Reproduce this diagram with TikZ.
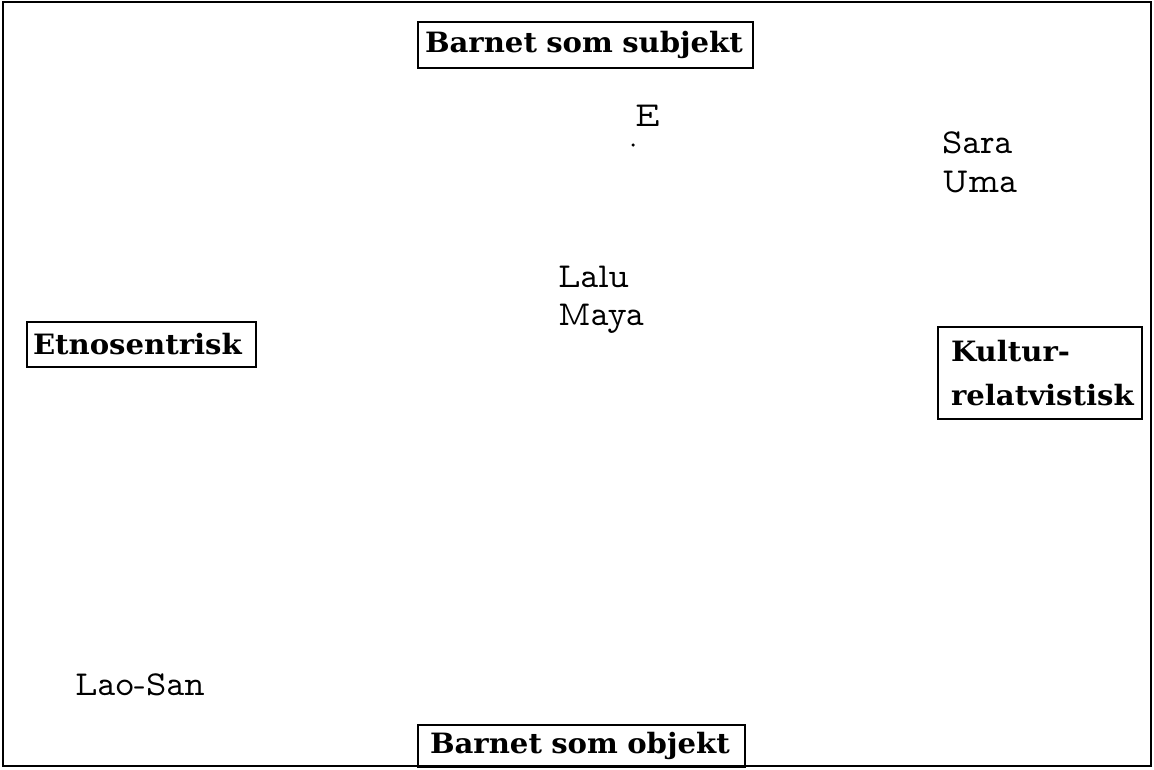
\documentclass[tikz,border=0pt]{standalone}
\usepackage{fontspec}
\newfontfamily\headfont{DejaVu Serif}[FakeStretch=1.04]
\newcommand\plainnames{\fontfamily{lmvtt}\selectfont}
\begin{document}
\begin{tikzpicture}[x=1pt,y=-1pt,
  frame/.style={draw=black, line width=2.8pt},
  heading/.style={draw=black, line width=1.6pt, inner ysep=0pt, align=left,
    font=\headfont\bfseries\fontsize{28}{44}\selectfont},
  placename/.style={anchor=base west, inner sep=0pt,
    font=\plainnames\fontsize{35}{40}\selectfont},
  dotmark/.style={circle, fill=black, inner sep=0pt, minimum size=3.5pt}]
  % page and outer frame
  \fill[white] (0,0) rectangle (1154,769);
  \useasboundingbox (0,0) rectangle (1154,769);
  \draw[frame] (3,2) rectangle (1151,766);

  % axis headings
  \node[heading, text width=321pt, inner xsep=7pt, minimum height=46pt] (subj) at (585.5,45) {Barnet som subjekt};
  \node[heading, text width=303pt, inner xsep=12pt, minimum height=42pt] (obj) at (581.5,746) {Barnet som objekt};
  \node[heading, text width=217pt, inner xsep=6pt, minimum height=45pt] (etno) at (141.5,344.5) {Etnosentrisk};
  \node[heading, text width=178pt, inner xsep=13pt, minimum height=92pt] (kult) at (1040,373) {Kultur-\\relatvistisk};

  % placed names
  \node[placename] (e) at (635,126) {E};
  \node[dotmark] (dot) at (633,145) {};
  \node[placename] (sara) at (942,153) {Sara};
  \node[placename] (uma) at (942,192) {Uma};
  \node[placename] (lalu) at (558,287) {Lalu};
  \node[placename] (maya) at (558,325) {Maya};
  \node[placename] (lao) at (75,695) {Lao-San};
\end{tikzpicture}
\end{document}
